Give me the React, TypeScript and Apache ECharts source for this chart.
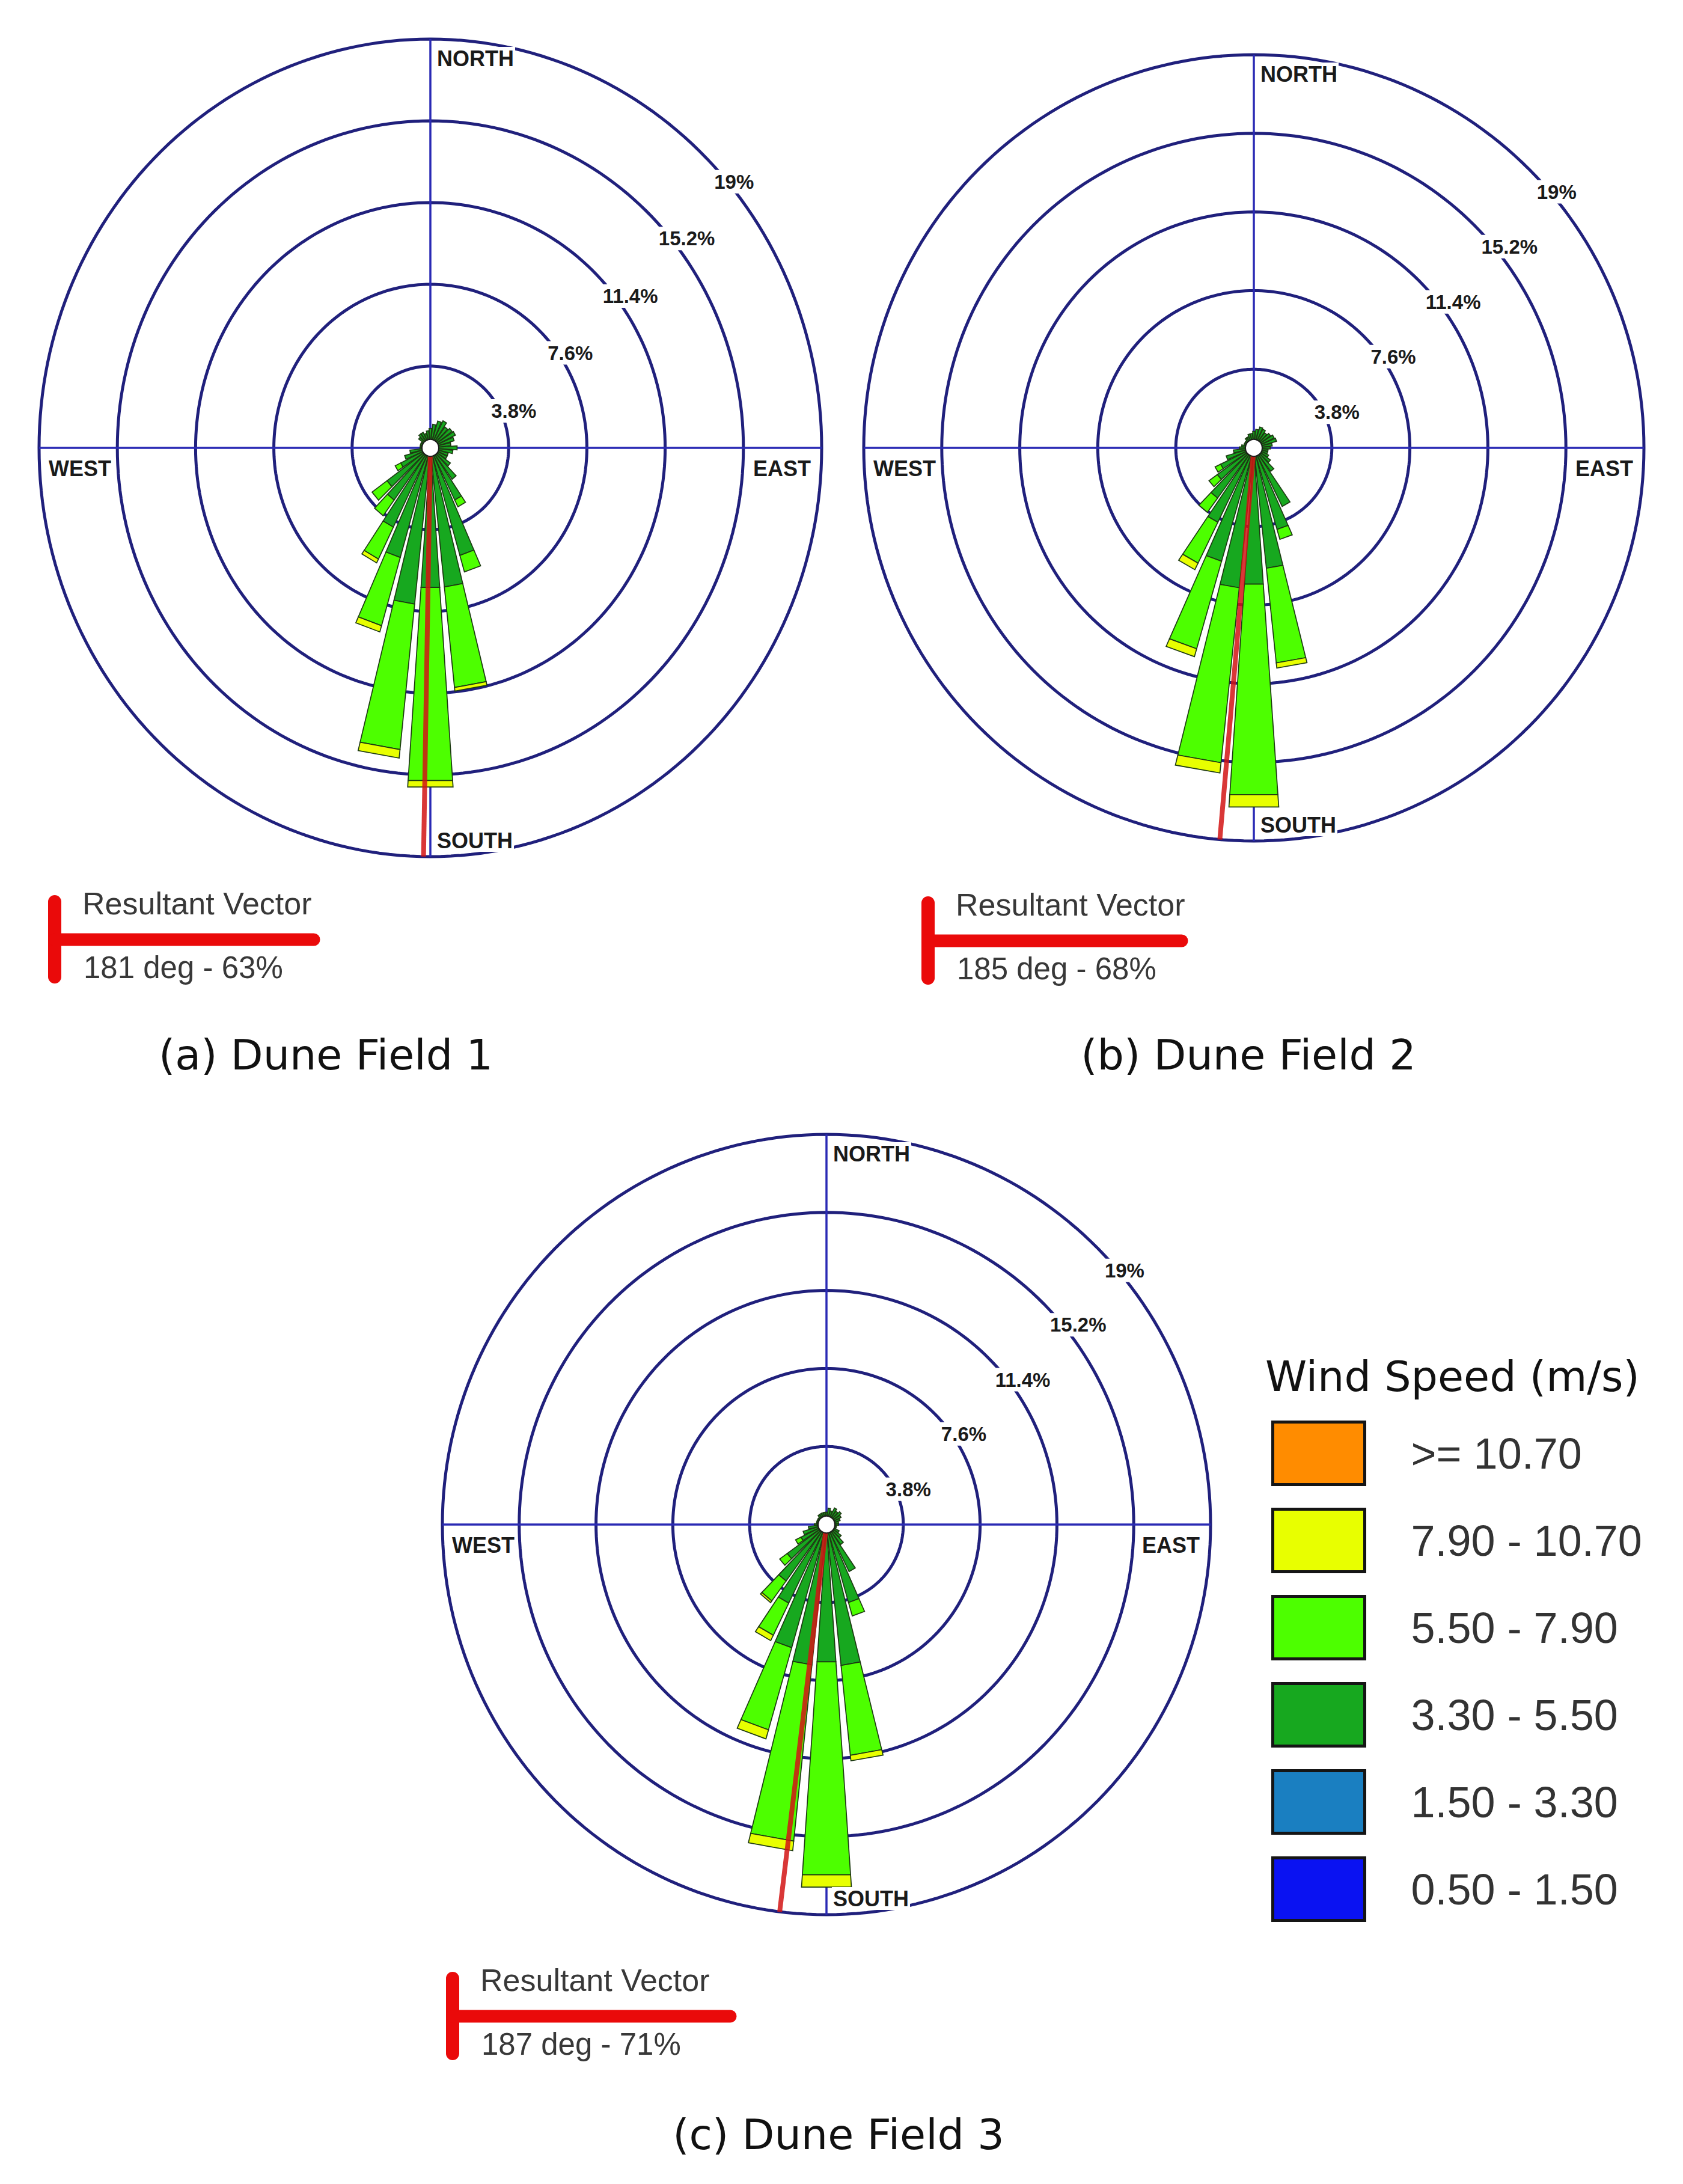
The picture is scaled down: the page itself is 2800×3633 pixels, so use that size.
import React, { useEffect, useRef } from "react";
import * as echarts from "echarts";

// ---------- data ----------
const DIRECTIONS = [0, 10, 20, 30, 40, 50, 60, 70, 80, 90, 100, 110, 120, 130, 140, 150, 160, 170, 180, 190, 200, 210, 220, 230, 240, 250, 260, 270, 280, 290, 300, 310, 320, 330, 340, 350];
const RING_VALUES = [3.8, 7.6, 11.4, 15.2, 19];
const RING_LABELS = ["3.8%", "7.6%", "11.4%", "15.2%", "19%"];
const COMPASS = ["NORTH", "EAST", "SOUTH", "WEST"];
const SPEED_CLASSES = ["0.50 - 1.50", "1.50 - 3.30", "3.30 - 5.50", "5.50 - 7.90", "7.90 - 10.70", ">= 10.70"];
const SPEED_COLORS = ["#0a12f2", "#1a7fc1", "#17a81f", "#4dff00", "#e8ff00", "#ff8c00"];
const CAPTIONS = ["(a) Dune Field 1", "(b) Dune Field 2", "(c) Dune Field 3"];

// frequency (%) per direction, per wind speed class
const ZERO36 = [0, 0, 0, 0, 0, 0, 0, 0, 0, 0, 0, 0, 0, 0, 0, 0, 0, 0, 0, 0, 0, 0, 0, 0, 0, 0, 0, 0, 0, 0, 0, 0, 0, 0, 0, 0];

const DF1_330_550 = [0.9, 1.1, 1.3, 1.4, 1.2, 1.3, 1.35, 1.2, 1.0, 1.3, 1.1, 0.9, 0.9, 1.2, 1.8, 2.7, 5.2, 6.5, 6.5, 7.3, 5.3, 4.1, 3.0, 2.6, 1.6, 1.3, 1.0, 0.5, 0.5, 0.5, 0.5, 0.7, 0.8, 0.8, 0.7, 0.8];
const DF1_550_790 = [0, 0, 0, 0, 0, 0, 0, 0, 0, 0, 0, 0, 0, 0, 0, 0.35, 0.8, 4.7, 9.0, 6.8, 3.3, 1.65, 0.9, 0.9, 0.3, 0, 0, 0, 0, 0, 0, 0, 0, 0, 0, 0];
const DF1_790_1070 = [0, 0, 0, 0, 0, 0, 0, 0, 0, 0, 0, 0, 0, 0, 0, 0, 0, 0.17, 0.3, 0.4, 0.3, 0.2, 0, 0, 0, 0, 0, 0, 0, 0, 0, 0, 0, 0, 0, 0];

const DF2_330_550 = [0.8, 0.9, 1.05, 1.0, 0.9, 1.0, 1.1, 1.15, 0.9, 0.8, 0.7, 0.7, 0.8, 1.0, 1.4, 3.15, 4.1, 5.85, 6.6, 6.8, 5.7, 4.0, 3.0, 2.2, 1.8, 1.4, 1.0, 0.7, 0.6, 0.5, 0.5, 0.5, 0.6, 0.6, 0.7, 0.7];
const DF2_550_790 = [0, 0, 0, 0, 0, 0, 0, 0, 0, 0, 0, 0, 0, 0, 0, 0, 0.5, 4.6, 10.2, 8.5, 4.4, 2.2, 0.85, 0.5, 0.3, 0, 0, 0, 0, 0, 0, 0, 0, 0, 0, 0];
const DF2_790_1070 = [0, 0, 0, 0, 0, 0, 0, 0, 0, 0, 0, 0, 0, 0, 0, 0, 0, 0.25, 0.6, 0.5, 0.4, 0.35, 0, 0, 0, 0, 0, 0, 0, 0, 0, 0, 0, 0, 0, 0];

const DF3_330_550 = [0.6, 0.8, 0.7, 0.9, 0.8, 0.9, 0.8, 0.7, 0.6, 0.6, 0.5, 0.5, 0.7, 0.9, 1.2, 2.55, 3.95, 6.9, 6.7, 6.87, 6.24, 4.26, 3.4, 2.4, 1.4, 1.2, 0.9, 0.6, 0.5, 0.5, 0.5, 0.5, 0.6, 0.6, 0.6, 0.6];
const DF3_550_790 = [0, 0, 0, 0, 0, 0, 0, 0, 0, 0, 0, 0, 0, 0, 0, 0, 0.68, 4.4, 10.4, 8.63, 4.16, 1.74, 1.2, 0.46, 0.3, 0, 0, 0, 0, 0, 0, 0, 0, 0, 0, 0];
const DF3_790_1070 = [0, 0, 0, 0, 0, 0, 0, 0, 0, 0, 0, 0, 0, 0, 0, 0, 0, 0.27, 0.6, 0.47, 0.46, 0.29, 0.1, 0, 0, 0, 0, 0, 0, 0, 0, 0, 0, 0, 0, 0];

// resultant vectors: [direction deg, percent]
const DF1_VECTOR = [181, 63];
const DF2_VECTOR = [185, 68];
const DF3_VECTOR = [187, 71];

const FIELDS = [
  { classes: [ZERO36, ZERO36, DF1_330_550, DF1_550_790, DF1_790_1070, ZERO36], vector: DF1_VECTOR },
  { classes: [ZERO36, ZERO36, DF2_330_550, DF2_550_790, DF2_790_1070, ZERO36], vector: DF2_VECTOR },
  { classes: [ZERO36, ZERO36, DF3_330_550, DF3_550_790, DF3_790_1070, ZERO36], vector: DF3_VECTOR },
];

// ---------- layout ----------
const GRIDS = [
  { left: 65, top: 65, width: 1302, height: 1360 },
  { left: 1437, top: 91, width: 1298, height: 1308 },
  { left: 736, top: 1887, width: 1278, height: 1298 },
];
const VEC_LEGEND = [
  { x: 91, y: 1563, len: 431 },
  { x: 1544, y: 1565, len: 422 },
  { x: 753, y: 3354, len: 462 },
];
const CAPTION_POS = [
  [542, 1755],
  [2077, 1755],
  [1395, 3551],
];
const MAXR = 19;
const HALF_W = 4; // half sector width (deg)
const LABEL_BEARING = [67, 57, 54, 52, 50];
const LABEL_OFF = [0.6, 0.5, 0.6, 0.6, 0.25];
const RING_COLOR = "#20207c";
const AXIS_COLOR = "#2a2ab4";
const ARIAL = "'Liberation Sans', Arial, sans-serif";
const VERDANA = "'DejaVu Sans', Verdana, sans-serif";

function polarPt(api: any, r: number, deg: number) {
  const a = (deg * Math.PI) / 180;
  return api.coord([r * Math.sin(a), r * Math.cos(a)]);
}

function buildOption() {
  const series: any[] = [];
  const xAxis: any[] = [];
  const yAxis: any[] = [];
  const grid: any[] = [];

  FIELDS.forEach((field, i) => {
    grid.push({ ...GRIDS[i], containLabel: false });
    xAxis.push({ type: "value", gridIndex: i, min: -MAXR, max: MAXR, show: false });
    yAxis.push({ type: "value", gridIndex: i, min: -MAXR, max: MAXR, show: false });
    const ax = { xAxisIndex: i, yAxisIndex: i, coordinateSystem: "cartesian2d", clip: false, silent: true };

    // rings
    series.push({
      type: "custom",
      ...ax,
      z: 1,
      data: RING_VALUES.map((v) => [v, 0]),
      renderItem: (params: any, api: any) => {
        const r = api.value(0);
        const pts: number[][] = [];
        for (let k = 0; k <= 240; k++) pts.push(polarPt(api, r, (k * 360) / 240));
        return { type: "polyline", shape: { points: pts }, style: { stroke: RING_COLOR, lineWidth: 5, fill: null } };
      },
    });
    // cross axes
    series.push({
      type: "custom",
      ...ax,
      z: 1,
      data: [[0, 0], [90, 0]],
      renderItem: (params: any, api: any) => {
        const d = api.value(0);
        const p1 = polarPt(api, MAXR, d);
        const p2 = polarPt(api, MAXR, d + 180);
        return { type: "line", shape: { x1: p1[0], y1: p1[1], x2: p2[0], y2: p2[1] }, style: { stroke: AXIS_COLOR, lineWidth: 3.5 } };
      },
    });

    // stacked sectors per speed class
    const base = DIRECTIONS.map(() => 0);
    field.classes.forEach((vals, c) => {
      const color = SPEED_COLORS[c];
      const data = DIRECTIONS.map((d, j) => [d, base[j], vals[j]]);
      DIRECTIONS.forEach((d, j) => (base[j] += vals[j]));
      series.push({
        type: "custom",
        name: SPEED_CLASSES[c],
        ...ax,
        z: 2,
        itemStyle: { color },
        data,
        renderItem: (params: any, api: any) => {
          const dir = api.value(0);
          const r0 = api.value(1);
          const v = api.value(2);
          if (!(v > 0)) return null;
          const r1 = r0 + v;
          const points = [
            polarPt(api, r0, dir - HALF_W),
            polarPt(api, r0, dir + HALF_W),
            polarPt(api, r1, dir + HALF_W),
            polarPt(api, r1, dir - HALF_W),
          ];
          return { type: "polygon", shape: { points }, style: { fill: color, stroke: "#1d3a12", lineWidth: 1.7 } };
        },
      });
    });

    // resultant vector
    series.push({
      type: "custom",
      ...ax,
      z: 3,
      data: [[field.vector[0], field.vector[1]]],
      renderItem: (params: any, api: any) => {
        const d = api.value(0);
        const p0 = api.coord([0, 0]);
        const p1 = polarPt(api, MAXR, d);
        return { type: "line", shape: { x1: p0[0], y1: p0[1], x2: p1[0], y2: p1[1] }, style: { stroke: "rgba(210,20,20,0.85)", lineWidth: 8 } };
      },
    });

    // calm circle
    series.push({
      type: "custom",
      ...ax,
      z: 4,
      data: [[0, 0]],
      renderItem: (params: any, api: any) => {
        const p = api.coord([api.value(0), api.value(1)]);
        return { type: "circle", shape: { cx: p[0], cy: p[1], r: 14 }, style: { fill: "#ffffff", stroke: "#1a1a1a", lineWidth: 2 } };
      },
    });

    // ring labels
    series.push({
      type: "custom",
      ...ax,
      z: 5,
      data: RING_VALUES.map((v, k) => [v, k]),
      renderItem: (params: any, api: any) => {
        const r = api.value(0);
        const k = api.value(1);
        const p = polarPt(api, r + LABEL_OFF[k], LABEL_BEARING[k]);
        return {
          type: "text",
          x: p[0],
          y: p[1],
          style: {
            text: RING_LABELS[k],
            font: `bold 33px ${ARIAL}`,
            fill: "#1a1a1a",
            align: "center",
            verticalAlign: "middle",
            backgroundColor: "#ffffff",
            padding: [3, 4],
          },
        };
      },
    });

    // compass labels
    series.push({
      type: "custom",
      ...ax,
      z: 5,
      data: COMPASS.map((n, k) => [k * 90, k]),
      renderItem: (params: any, api: any) => {
        const d = api.value(0);
        const k = api.value(1);
        const p = polarPt(api, MAXR, d);
        let x = p[0];
        let y = p[1];
        let align = "left";
        if (k === 0) { x += 9; y += 32; }
        else if (k === 2) { x += 9; y -= 27; }
        else if (k === 3) { x += 14; y += 34; }
        else { x -= 16; y += 34; align = "right"; }
        return {
          type: "text",
          x,
          y,
          style: {
            text: COMPASS[k],
            font: `bold 36px ${ARIAL}`,
            fill: "#1a1a1a",
            align,
            verticalAlign: "middle",
            backgroundColor: "#ffffff",
            padding: [1, 2],
          },
        };
      },
    });
  });

  // graphic: captions, resultant-vector keys, legend title
  const graphic: any[] = [];
  CAPTIONS.forEach((t, i) => {
    graphic.push({
      type: "text",
      x: CAPTION_POS[i][0],
      y: CAPTION_POS[i][1],
      style: { text: t, font: `70px ${VERDANA}`, fill: "#111111", align: "center", verticalAlign: "middle" },
    });
  });
  FIELDS.forEach((field, i) => {
    const L = VEC_LEGEND[i];
    graphic.push({
      type: "line",
      shape: { x1: L.x, y1: L.y - 63, x2: L.x, y2: L.y + 62 },
      style: { stroke: "#ea0a0a", lineWidth: 22, lineCap: "round" },
    });
    graphic.push({
      type: "line",
      shape: { x1: L.x, y1: L.y, x2: L.x + L.len, y2: L.y },
      style: { stroke: "#ea0a0a", lineWidth: 21, lineCap: "round" },
    });
    graphic.push({
      type: "text",
      x: L.x + 46,
      y: L.y - 60,
      style: { text: "Resultant Vector", font: `52px ${ARIAL}`, fill: "#383838", align: "left", verticalAlign: "middle" },
    });
    graphic.push({
      type: "text",
      x: L.x + 48,
      y: L.y + 46,
      style: { text: `${field.vector[0]} deg - ${field.vector[1]}%`, font: `51px ${ARIAL}`, fill: "#383838", align: "left", verticalAlign: "middle" },
    });
  });
  graphic.push({
    type: "text",
    x: 2105,
    y: 2290,
    style: { text: "Wind Speed (m/s)", font: `70px ${VERDANA}`, fill: "#111111", align: "left", verticalAlign: "middle" },
  });

  return {
    animation: false,
    backgroundColor: "#ffffff",
    grid,
    xAxis,
    yAxis,
    series,
    graphic,
    legend: {
      orient: "vertical",
      left: 2110,
      top: 2358,
      itemWidth: 153,
      itemHeight: 104,
      itemGap: 36,
      icon: "rect",
      selectedMode: false,
      data: SPEED_CLASSES.slice().reverse(),
      itemStyle: { borderColor: "#151515", borderWidth: 5 },
      textStyle: { fontFamily: ARIAL, fontSize: 72, color: "#333333", padding: [0, 0, 0, 72] },
    },
  };
}

export default function App() {
  const ref = useRef<HTMLDivElement>(null);
  useEffect(() => {
    document.body.style.margin = "0";
    if (!ref.current) return;
    const chart = echarts.init(ref.current, null, { renderer: "svg" });
    chart.setOption(buildOption() as any);
    return () => chart.dispose();
  }, []);
  return <div ref={ref} style={{ width: 2800, height: 3633, background: "#fff" }} />;
}
